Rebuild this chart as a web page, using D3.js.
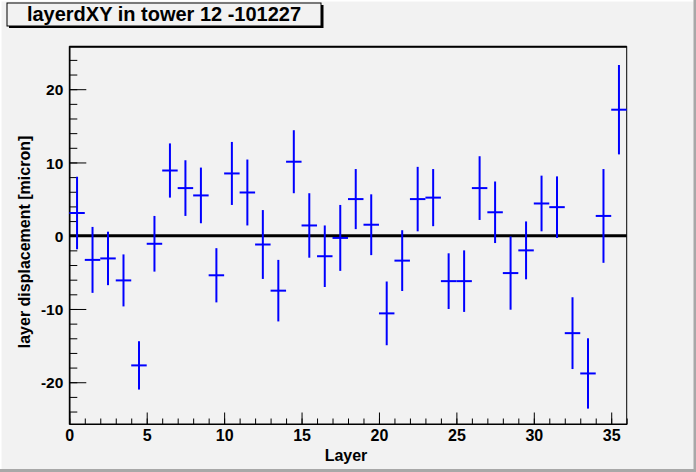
<!DOCTYPE html>
<html>
<head>
<meta charset="utf-8">
<script src="https://cdn.jsdelivr.net/npm/d3@7"></script>
<style>
  html, body { margin: 0; padding: 0; background: #f2f2f2; }
  svg { display: block; }
  text { font-family: "Liberation Sans", Arial, Helvetica, sans-serif; font-weight: bold; }
</style>
</head>
<body>
<div id="chart"></div>
<script>
// ---- data ----
const title = "layerdXY in tower 12 -101227";
const xTitle = "Layer";
const yTitle = "layer displacement [micron]";
const layers = d3.range(0, 36); // bin index, drawn at bin centre
const values = [3.1, -3.3, -3.1, -6.1, -17.7, -1.1, 8.9, 6.5, 5.5, -5.4,
                8.5, 5.9, -1.2, -7.5, 10.1, 1.4, -2.8, -0.3, 5.0, 1.5,
                -10.6, -3.4, 5.0, 5.2, -6.2, -6.2, 6.5, 3.2, -5.1, -2.0,
                4.4, 3.9, -13.3, -18.8, 2.7, 17.2];
const errors = [4.95, 4.5, 3.65, 3.55, 3.3, 3.8, 3.7, 3.8, 3.8, 3.7,
                4.3, 4.5, 4.7, 4.2, 4.3, 4.4, 4.2, 4.5, 4.1, 4.15,
                4.35, 4.15, 4.4, 3.9, 3.8, 4.2, 4.35, 4.2, 5.0, 3.95,
                3.8, 4.2, 4.9, 4.8, 6.4, 6.1];
const xMajorTicks = [0, 5, 10, 15, 20, 25, 30, 35];
const xMinorTicks = d3.range(0, 37, 1);
const yMajorTicks = [-20, -10, 0, 10, 20];
const yMinorTicks = d3.range(-24, 25, 2);
const xDomain = [0, 36];
const yDomain = [-25.7, 25.8];

// ---- layout ----
const W = 696, H = 472;
const plot = { left: 69.3, right: 626.7, top: 46.7, bottom: 424 };
const fmt = d => String(d); // plain ASCII hyphen for negatives

const svg = d3.select("#chart").append("svg")
  .attr("width", W).attr("height", H);

// canvas background and bevel border
svg.append("rect").attr("x", 0).attr("y", 0).attr("width", W).attr("height", H).attr("fill", "#f2f2f2");
svg.append("rect").attr("x", 0).attr("y", 0).attr("width", W).attr("height", 1.5).attr("fill", "#ffffff");
svg.append("rect").attr("x", 0).attr("y", 0).attr("width", 1.5).attr("height", H).attr("fill", "#ffffff");
svg.append("rect").attr("x", W - 2.5).attr("y", 0).attr("width", 2.5).attr("height", H).attr("fill", "#a8a8a8");
svg.append("rect").attr("x", 0).attr("y", H - 3).attr("width", W).attr("height", 3).attr("fill", "#a8a8a8");

const x = d3.scaleLinear().domain(xDomain).range([plot.left, plot.right]);
const y = d3.scaleLinear().domain(yDomain).range([plot.bottom, plot.top]);

// frame
svg.append("rect")
  .attr("x", plot.left).attr("y", plot.top)
  .attr("width", plot.right - plot.left).attr("height", plot.bottom - plot.top)
  .attr("fill", "none").attr("stroke", "#000").attr("stroke-width", 1);
svg.append("line")
  .attr("x1", plot.left).attr("x2", plot.right)
  .attr("y1", plot.top).attr("y2", plot.top)
  .attr("stroke", "#000").attr("stroke-width", 2);

// y axis
const yMinor = d3.axisLeft(y).tickValues(yMinorTicks).tickSizeInner(-8).tickSizeOuter(0).tickFormat("");
const yMajor = d3.axisLeft(y).tickValues(yMajorTicks).tickSizeInner(-17).tickSizeOuter(0).tickPadding(6)
  .tickFormat(fmt);
const gyMinor = svg.append("g").attr("transform", `translate(${plot.left},0)`).call(yMinor);
const gyMajor = svg.append("g").attr("transform", `translate(${plot.left},0)`).call(yMajor);
[gyMinor, gyMajor].forEach(g => {
  g.select(".domain").attr("stroke", "#000").attr("stroke-width", 1);
  g.selectAll(".tick line").attr("stroke", "#000").attr("stroke-width", 1);
});
gyMajor.selectAll(".tick text")
  .attr("font-size", 15.5).attr("font-family", '"Liberation Sans", Arial, sans-serif')
  .attr("font-weight", "bold").attr("fill", "#000").attr("dy", "0.36em");

// x axis
const xMinor = d3.axisBottom(x).tickValues(xMinorTicks).tickSizeInner(-5.5).tickSizeOuter(0).tickFormat("");
const xMajor = d3.axisBottom(x).tickValues(xMajorTicks).tickSizeInner(-11.5).tickSizeOuter(0).tickPadding(4)
  .tickFormat(fmt);
const gxMinor = svg.append("g").attr("transform", `translate(0,${plot.bottom})`).call(xMinor);
const gxMajor = svg.append("g").attr("transform", `translate(0,${plot.bottom})`).call(xMajor);
[gxMinor, gxMajor].forEach(g => {
  g.select(".domain").attr("stroke", "#000").attr("stroke-width", 1);
  g.selectAll(".tick line").attr("stroke", "#000").attr("stroke-width", 1);
});
gxMajor.selectAll(".tick text")
  .attr("font-size", 16).attr("font-family", '"Liberation Sans", Arial, sans-serif')
  .attr("font-weight", "bold").attr("fill", "#000").attr("y", 17).attr("dy", 0);

// axis titles
svg.append("text")
  .attr("x", 346).attr("y", 460.5)
  .attr("text-anchor", "middle").attr("font-size", 16).attr("fill", "#000")
  .text(xTitle);
svg.append("text")
  .attr("transform", `translate(30,242) rotate(-90)`)
  .attr("text-anchor", "middle").attr("font-size", 16).attr("fill", "#000")
  .text(yTitle);

// zero line
svg.append("line")
  .attr("x1", x(xDomain[0])).attr("x2", x(xDomain[1]))
  .attr("y1", y(0)).attr("y2", y(0))
  .attr("stroke", "#000").attr("stroke-width", 3);

// data: error bars
const pts = layers.map((l, i) => ({ l, v: values[i], e: errors[i] }));
const gData = svg.append("g").attr("stroke", "#0000ff").attr("stroke-width", 2).attr("fill", "none");
gData.selectAll("line.h").data(pts).join("line").attr("class", "h")
  .attr("x1", d => x(d.l)).attr("x2", d => x(d.l + 1))
  .attr("y1", d => y(d.v)).attr("y2", d => y(d.v));
gData.selectAll("line.v").data(pts).join("line").attr("class", "v")
  .attr("x1", d => x(d.l + 0.5)).attr("x2", d => x(d.l + 0.5))
  .attr("y1", d => y(d.v + d.e)).attr("y2", d => y(d.v - d.e));

// title box with shadow
svg.append("rect").attr("x", 9).attr("y", 5).attr("width", 314.5).attr("height", 23).attr("fill", "#000");
svg.append("rect").attr("x", 7).attr("y", 3).attr("width", 314).attr("height", 23)
  .attr("fill", "#f2f2f2").attr("stroke", "#000").attr("stroke-width", 1);
svg.append("text")
  .attr("x", 164).attr("y", 21)
  .attr("text-anchor", "middle").attr("font-size", 20).attr("fill", "#000")
  .text(title);
</script>
</body>
</html>
